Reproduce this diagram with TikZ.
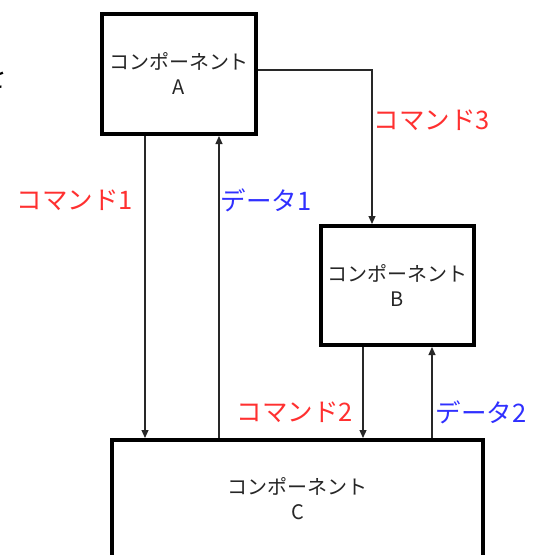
\documentclass[tikz,border=0pt]{standalone}
\usepackage{fontspec}
\setmainfont{Noto Sans CJK JP}
\usetikzlibrary{arrows.meta}
\definecolor{cmdred}{RGB}{255,48,48}
\definecolor{datblue}{RGB}{48,48,255}
\definecolor{linegray}{RGB}{40,40,40}
\tikzset{
  comp/.style={draw=black, line width=4pt, fill=white, align=center,
    font=\fontsize{20}{25}\selectfont, text=black!85},
  arr/.style={draw=linegray, line width=1.2pt, -{Triangle[length=8pt,width=7pt]}},
  cmd/.style={text=cmdred, font=\fontsize{25.5}{28}\selectfont, inner sep=0pt},
  dat/.style={text=datblue, font=\fontsize{25.5}{28}\selectfont, inner sep=0pt}
}
\begin{document}
\begin{tikzpicture}[x=1pt,y=-1pt]
\useasboundingbox (0,0) rectangle (543,555);
\clip (0,0) rectangle (543,555);
\fill[white] (0,0) rectangle (543,555);
\node[font=\fontsize{30}{32}\selectfont, inner sep=0pt] (wo) at (-7,76) {を};
\node[comp, minimum width=154pt, minimum height=120pt] (A) at (179,74) {コンポーネント\\A};
\node[comp, minimum width=153pt, minimum height=119pt] (B) at (397.5,285.5) {コンポーネント\\B};
\node[comp, minimum width=371pt, minimum height=118pt] (C) at (297.5,499) {コンポーネント\\C};
\draw[arr] ([yshift=4pt]A.east) -| ([xshift=-25.5pt]B.north);
\draw[arr] ([xshift=-34pt]A.south) -- ([xshift=-34pt]A.south |- C.north);
\draw[arr] ([xshift=40pt]A.south |- C.north) -- ([xshift=40pt]A.south);
\draw[arr] ([xshift=-34.5pt]B.south) -- ([xshift=-34.5pt]B.south |- C.north);
\draw[arr] ([xshift=34.5pt]B.south |- C.north) -- ([xshift=34.5pt]B.south);
\node[cmd] (c1) at (75,200) {コマンド1};
\node[dat] (d1) at (266,200) {データ1};
\node[cmd] (c3) at (432,120) {コマンド3};
\node[cmd] (c2) at (295,412) {コマンド2};
\node[dat] (d2) at (481,412) {データ2};
\end{tikzpicture}
\end{document}
